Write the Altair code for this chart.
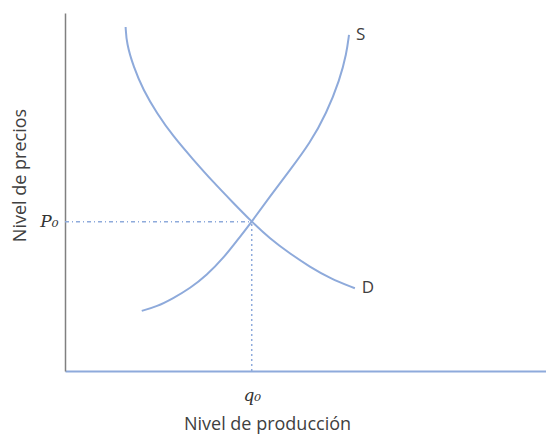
import altair as alt
import pandas as pd

# Demand curve (quantity, price)
demand_q = [12.4, 12.6, 14.0, 16.0, 18.8, 22.1, 26.2, 30.3, 34.4, 38.2, 41.9, 46.0, 50.1, 54.2, 59.3]
demand_p = [96.1, 91.5, 85.0, 78.5, 72.0, 65.6, 59.1, 52.8, 47.0, 41.7, 37.0, 32.8, 29.1, 25.9, 23.1]

# Supply curve
supply_q = [15.7, 18.8, 22.1, 25.6, 29.0, 32.4, 35.8, 38.2, 41.9, 46.0, 50.1, 53.5, 56.2, 57.6, 58.1]
supply_p = [16.8, 18.0, 20.3, 23.1, 26.8, 31.5, 37.5, 41.7, 48.7, 56.1, 63.6, 72.0, 81.3, 88.7, 93.9]

# Equilibrium
q0 = 38.2
p0 = 41.7

curve_labels = ["S", "D"]

blue = "#8eaadb"
text_color = "#404040"
font = "Open Sans"

rows = []
for i, (q, p) in enumerate(zip(demand_q, demand_p)):
    rows.append({"q": q, "p": p, "curve": "D", "order": i})
for i, (q, p) in enumerate(zip(supply_q, supply_p)):
    rows.append({"q": q, "p": p, "curve": "S", "order": i})
curves = pd.DataFrame(rows)

hline = pd.DataFrame([{"q": 0, "q2": q0, "p": p0}])
vline = pd.DataFrame([{"q": q0, "p": 0, "p2": p0}])
labels = pd.DataFrame([
    {"q": supply_q[-1], "p": supply_p[-1], "label": curve_labels[0]},
    {"q": demand_q[-1], "p": demand_p[-1], "label": curve_labels[1]},
])

x_axis = alt.Axis(
    values=[q0], labelExpr="'q₀'", ticks=False, grid=False,
    labelFont="DejaVu Serif", labelFontStyle="italic", labelFontSize=17,
    labelColor="#333333", labelPadding=16,
    domainColor=blue, domainWidth=2,
    title="Nivel de producción", titleX=202, titleY=53,
    titleAlign="center", titleBaseline="middle",
    titleFont=font, titleFontSize=18, titleFontWeight="normal", titleColor=text_color,
)
y_axis = alt.Axis(
    values=[p0], labelExpr="'P₀'", ticks=False, grid=False,
    labelFont="DejaVu Serif", labelFontStyle="italic", labelFontSize=17,
    labelColor="#333333", labelPadding=7,
    domainColor="#808080", domainWidth=1.5,
    title="Nivel de precios", titleX=-45, titleY=162, titleAngle=-90,
    titleAlign="center", titleBaseline="middle",
    titleFont=font, titleFontSize=18, titleFontWeight="normal", titleColor=text_color,
)

xs = alt.Scale(domain=[0, 98.4], nice=False, zero=False)
ys = alt.Scale(domain=[0, 100], nice=False, zero=False)

X = alt.X("q:Q", scale=xs, axis=x_axis)
Y = alt.Y("p:Q", scale=ys, axis=y_axis)

lines = alt.Chart(curves).mark_line(
    color=blue, strokeWidth=2, interpolate="basis"
).encode(x=X, y=Y, detail="curve:N", order="order:Q")

h = alt.Chart(hline).mark_rule(
    color=blue, strokeWidth=1.5, strokeDash=[4, 3, 1, 3]
).encode(x=X, x2="q2:Q", y=Y)

v = alt.Chart(vline).mark_rule(
    color=blue, strokeWidth=1.5, strokeDash=[2, 3]
).encode(x=X, y=Y, y2="p2:Q")

txt = alt.Chart(labels).mark_text(
    align="left", baseline="middle", dx=7, font=font, fontSize=17, color=text_color
).encode(x=X, y=Y, text="label:N")

chart = alt.layer(h, v, lines, txt).properties(
    width=481, height=358,
    padding={"left": 57, "top": 5, "right": 0, "bottom": 63},
    autosize=alt.AutoSizeParams(type="none"),
).configure_view(stroke=None)

chart.save("out.html", embed_options={"renderer": "svg", "actions": False})
